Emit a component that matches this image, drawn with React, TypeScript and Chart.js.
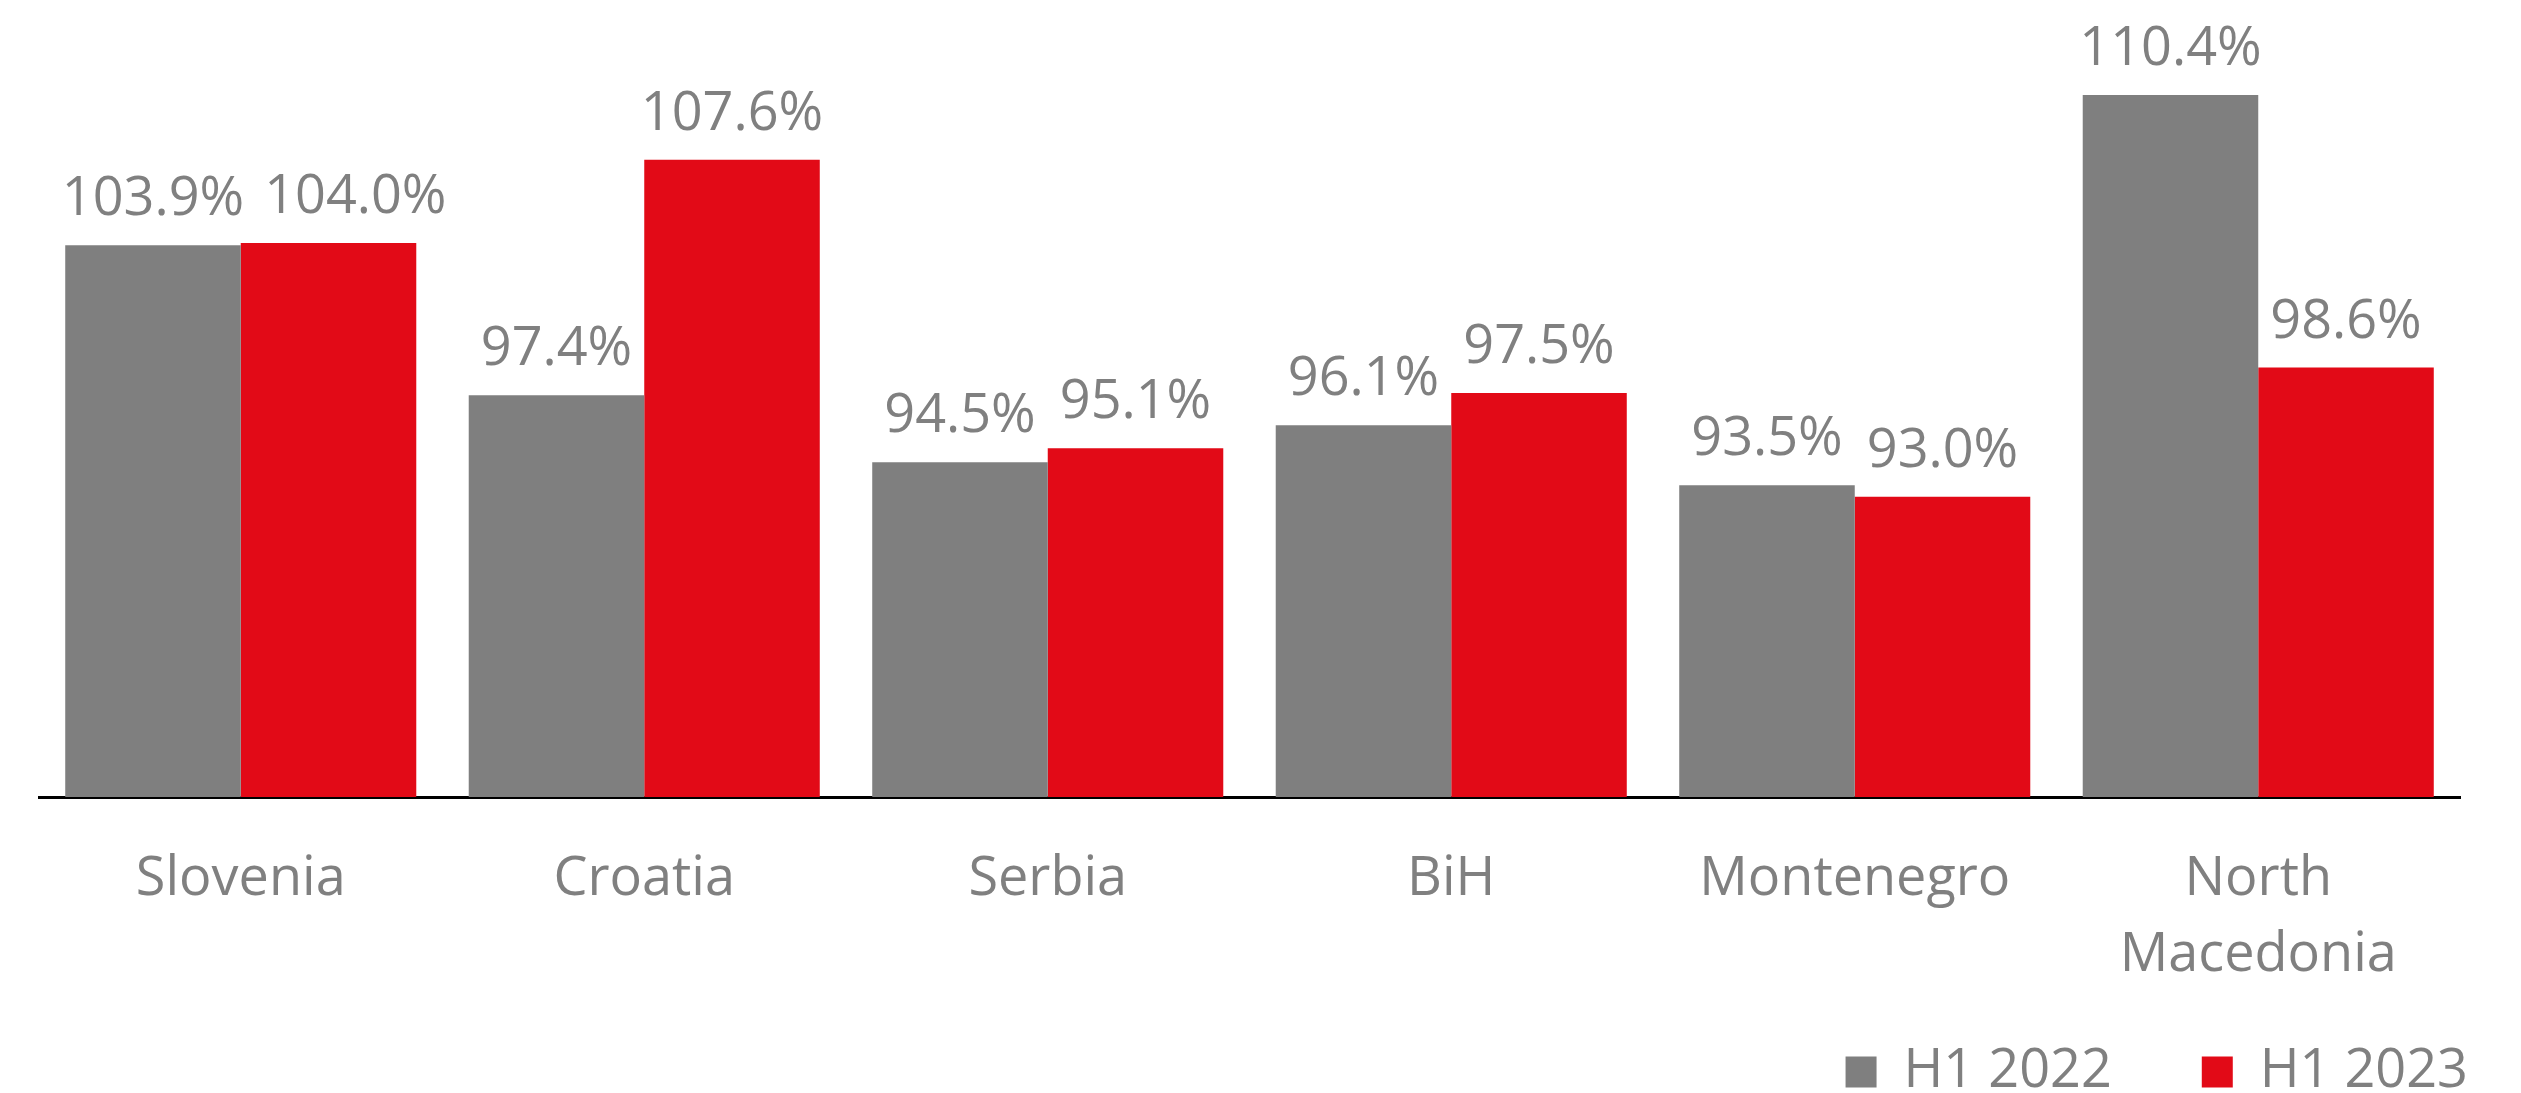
import React, { useEffect, useRef } from "react";
import { Chart, registerables } from "chart.js";

Chart.register(...registerables);

const categories: (string | string[])[] = ["Slovenia", "Croatia", "Serbia", "BiH", "Montenegro", ["North", "Macedonia"]];
const seriesNames = ["H1 2022", "H1 2023"];
const h1_2022 = [103.9, 97.4, 94.5, 96.1, 93.5, 110.4];
const h1_2023 = [104.0, 107.6, 95.1, 97.5, 93.0, 98.6];

const GRAY = "#7f7f7f";
const RED = "#e20a17";
const TEXT = "#808080";
const FONT = "'Open Sans', 'Noto Sans', sans-serif";

const LEGEND_PAD = 90;
const LABEL_GAP = 20;

// value labels above bars; a label that would collide with the previous
// label of the same category is nudged to the right
const valueLabels = {
  id: "valueLabels",
  afterDatasetsDraw(chart: any) {
    const ctx = chart.ctx;
    ctx.save();
    ctx.font = `400 54px ${FONT}`;
    ctx.fillStyle = TEXT;
    ctx.textAlign = "center";
    ctx.textBaseline = "alphabetic";
    const n = chart.data.labels.length;
    for (let j = 0; j < n; j++) {
      let prevRight = -Infinity;
      let prevTop = 0;
      let prevBottom = 0;
      chart.data.datasets.forEach((ds: any, i: number) => {
        const el = chart.getDatasetMeta(i).data[j];
        const text = (ds.data[j] as number).toFixed(1) + "%";
        const w = ctx.measureText(text).width;
        let cx = el.x;
        const baseY = el.y - 30;
        const top = baseY - 40;
        const overlapV = top < prevBottom && baseY > prevTop;
        if (overlapV && cx - w / 2 < prevRight + LABEL_GAP) {
          cx = prevRight + LABEL_GAP + w / 2;
        }
        ctx.fillText(text, cx, baseY);
        prevRight = cx + w / 2;
        prevTop = top;
        prevBottom = baseY;
      });
    }
    ctx.restore();
  },
};

// move the legend box to the bottom-right corner like the reference,
// and let the category labels use the full height below the axis
const legendPlacement = {
  id: "legendPlacement",
  afterLayout(chart: any) {
    const lg = chart.legend;
    if (lg) {
      const dx = chart.width - 53 + LEGEND_PAD - lg.right;
      const dy = chart.height - 48 - LEGEND_PAD - lg.top;
      lg.left += dx;
      lg.right += dx;
      lg.top += dy;
      lg.bottom += dy;
    }
    const x = chart.scales.x;
    if (x) {
      x.bottom = chart.height;
      x.height = x.bottom - x.top;
    }
  },
};

export default function App() {
  const ref = useRef<HTMLCanvasElement | null>(null);
  useEffect(() => {
    document.body.style.margin = "0";
    if (!ref.current) return;
    const chart = new Chart(ref.current, {
      type: "bar",
      data: {
        labels: categories,
        datasets: [
          { label: seriesNames[0], data: h1_2022, backgroundColor: GRAY, borderWidth: 0, categoryPercentage: 0.87, barPercentage: 1.0 },
          { label: seriesNames[1], data: h1_2023, backgroundColor: RED, borderWidth: 0, categoryPercentage: 0.87, barPercentage: 1.0 },
        ],
      },
      plugins: [valueLabels, legendPlacement],
      options: {
        responsive: false,
        animation: false,
        devicePixelRatio: 1,
        layout: { padding: { left: 39, right: 61, top: 12, bottom: 0 } },
        scales: {
          x: {
            grid: { display: false },
            border: { display: true, color: "#000000", width: 3 },
            ticks: {
              color: TEXT,
              padding: 37,
              font: { family: FONT, size: 54, lineHeight: 1.4 },
              maxRotation: 0,
              autoSkip: false,
            },
            afterFit: (scale: any) => {
              scale.height = 142;
            },
          },
          y: {
            display: false,
            min: 80,
            max: 114,
          },
        },
        plugins: {
          legend: {
            position: "bottom",
            align: "end",
            labels: {
              color: TEXT,
              boxWidth: 31,
              boxHeight: 31,
              padding: LEGEND_PAD,
              font: { family: FONT, size: 54 },
            },
          },
          tooltip: { enabled: false },
        },
      },
    });
    return () => chart.destroy();
  }, []);
  return (
    <div style={{ position: "absolute", left: 0, top: 0, width: 2521, height: 1093 }}>
      <canvas ref={ref} width={2521} height={1093} style={{ width: 2521, height: 1093 }} />
    </div>
  );
}
